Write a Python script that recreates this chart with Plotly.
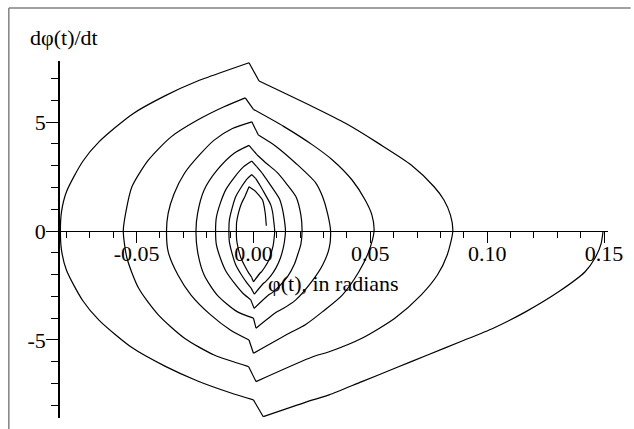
import plotly.graph_objects as go

# ---- data (phi in radians, dphi/dt) ----
# The trajectory alternates between right halves (phi > 0 side) and left halves,
# separated by the small velocity jumps near phi = 0.
r0_phi = [0.1496, 0.1487, 0.1461, 0.1419, 0.1307, 0.1166, 0.1026, 0.0885, 0.0745, 0.0605, 0.0464, 0.0324, 0.0254, 0.0042]
r0_v = [0.0, -0.6, -1.25, -1.87, -2.78, -3.70, -4.46, -5.08, -5.69, -6.30, -6.91, -7.52, -7.75, -8.52]

l1_phi = [0.0, -0.0099, -0.0239, -0.0379, -0.0520, -0.0660, -0.0730, -0.0800, -0.0821, -0.0826,
          -0.0821, -0.0800, -0.0730, -0.0660, -0.0520, -0.0379, -0.0239, -0.0099, -0.0019]
l1_v = [-7.75, -7.42, -6.88, -6.2, -5.35, -4.1, -3.2, -1.8, -0.9, 0.0,
        0.9, 1.8, 3.2, 4.1, 5.35, 6.2, 6.88, 7.42, 7.72]

r1_phi = [0.0024, 0.0254, 0.0394, 0.0535, 0.0675, 0.0773, 0.0815, 0.0843, 0.0853,
          0.0829, 0.0787, 0.0717, 0.0605, 0.0464, 0.0324, 0.0254, 0.0011]
r1_v = [6.88, 5.70, 4.94, 4.02, 3.03, 2.03, 1.42, 0.73, 0.0,
        -1.10, -2.02, -2.94, -4.00, -4.92, -5.54, -5.77, -6.91]

l2_phi = [-0.0021, -0.0168, -0.0295, -0.0407, -0.0491, -0.0541, -0.0557,
          -0.0547, -0.0520, -0.0449, -0.0351, -0.0239, -0.0126, -0.0035]
l2_v = [-6.22, -5.69, -4.92, -3.85, -2.63, -1.25, 0.0,
        0.81, 2.03, 3.26, 4.33, 5.09, 5.70, 6.11]

r2_phi = [0.0, 0.0129, 0.0254, 0.0338, 0.0422, 0.0478, 0.0507, 0.0516,
          0.0493, 0.0451, 0.0380, 0.0296, 0.0222, 0.0155, 0.0]
r2_v = [5.58, 4.80, 3.94, 3.26, 2.34, 1.42, 0.73, 0.0,
        -0.95, -1.87, -2.94, -3.70, -4.30, -4.68, -5.61]

l3_phi = [-0.0019, -0.0099, -0.0183, -0.0267, -0.0323, -0.0365, -0.0372,
          -0.0365, -0.0340, -0.0295, -0.0230, -0.0168, -0.0090, -0.0007]
l3_v = [-5.00, -4.54, -3.85, -2.94, -2.02, -0.95, 0.0,
        0.81, 1.70, 2.65, 3.50, 4.17, 4.70, 5.01]

r3_phi = [0.0021, 0.0098, 0.0182, 0.0267, 0.0296, 0.0317, 0.0330,
          0.0324, 0.0296, 0.0254, 0.0180, 0.0125, 0.0099, 0.0011]
r3_v = [4.40, 3.87, 3.10, 2.20, 1.57, 0.81, 0.0,
        -0.79, -1.56, -2.25, -3.17, -3.57, -3.72, -4.46]

l4_phi = [0.0, -0.0070, -0.0155, -0.0211, -0.0239, -0.0246,
          -0.0239, -0.0211, -0.0155, -0.0084, -0.0019]
l4_v = [-4.0, -3.70, -2.94, -2.02, -0.95, 0.0,
        0.81, 1.88, 2.80, 3.56, 3.93]

r4_phi = [0.0015, 0.0056, 0.0100, 0.0140, 0.0182, 0.0203, 0.0208,
          0.0203, 0.0191, 0.0175, 0.0148, 0.0112, 0.0079, 0.0062, 0.0003]
r4_v = [3.50, 3.10, 2.70, 2.19, 1.57, 0.73, 0.0,
        -0.6, -1.03, -1.53, -2.06, -2.52, -2.84, -2.96, -3.55]

l5_phi = [-0.0012, -0.0044, -0.0079, -0.0117, -0.0141, -0.0159, -0.0162,
          -0.0159, -0.0141, -0.0117, -0.0079, -0.0044, -0.0007]
l5_v = [-3.15, -2.87, -2.43, -1.86, -1.26, -0.6, 0.0,
        0.6, 1.3, 1.92, 2.5, 2.93, 3.21]

r5_phi = [0.0014, 0.0041, 0.0075, 0.0111, 0.0123, 0.0132, 0.0137,
          0.0133, 0.0126, 0.0115, 0.0097, 0.0074, 0.0052, 0.0041, 0.0004]
r5_v = [2.95, 2.6, 2.07, 1.48, 1.06, 0.53, 0.0,
        -0.46, -0.84, -1.25, -1.68, -2.06, -2.32, -2.42, -2.90]

l6_phi = [-0.0010, -0.0028, -0.0051, -0.0076, -0.0091, -0.0103, -0.0105,
          -0.0103, -0.0091, -0.0076, -0.0051, -0.0028, -0.0007]
l6_v = [-2.62, -2.38, -2.02, -1.55, -1.05, -0.5, 0.0,
        0.5, 1.06, 1.57, 2.03, 2.38, 2.59]

r6_phi = [0.0010, 0.0027, 0.0050, 0.0074, 0.0082, 0.0087, 0.0091,
          0.0088, 0.0084, 0.0076, 0.0065, 0.0049, 0.0035, 0.0027, 0.0]
r6_v = [2.40, 2.11, 1.68, 1.2, 0.86, 0.43, 0.0,
        -0.37, -0.68, -1.0, -1.35, -1.65, -1.86, -1.95, -2.33]

l7_phi = [-0.0008, -0.0020, -0.0036, -0.0053, -0.0064, -0.0072, -0.0073,
          -0.0072, -0.0064, -0.0053, -0.0036, -0.0019]
l7_v = [-2.12, -1.93, -1.63, -1.25, -0.85, -0.4, 0.0,
        0.4, 0.83, 1.22, 1.6, 2.03]

r7_phi = [0.0006, 0.0025, 0.0039, 0.0050, 0.0055]
r7_v = [1.85, 1.62, 1.42, 0.85, 0.24]

x_tick_vals = [-0.05, 0.0, 0.05, 0.10, 0.15]
x_tick_text = ["-0.05", "0.00", "0.05", "0.10", "0.15"]
y_tick_vals = [-5, 0, 5]
y_tick_text = ["-5", "0", "5"]

x_range = [-0.0832, 0.1517]
y_range = [-8.58, 7.80]

pieces = [(r0_phi, r0_v), (l1_phi, l1_v), (r1_phi, r1_v), (l2_phi, l2_v), (r2_phi, r2_v),
          (l3_phi, l3_v), (r3_phi, r3_v), (l4_phi, l4_v), (r4_phi, r4_v), (l5_phi, l5_v),
          (r5_phi, r5_v), (l6_phi, l6_v), (r6_phi, r6_v), (l7_phi, l7_v), (r7_phi, r7_v)]

FONT = "Liberation Serif, Times New Roman, serif"
LINE = dict(color="black", width=1.2)

fig = go.Figure()
# smooth arcs
for px_, pv_ in pieces:
    fig.add_trace(go.Scatter(x=px_, y=pv_, mode="lines",
                             line=dict(color="black", width=1.2, shape="spline", smoothing=0.7),
                             showlegend=False, hoverinfo="skip"))
# jumps between arcs (straight segments)
jx, jy = [], []
for (ax, av), (bx, bv) in zip(pieces[:-1], pieces[1:]):
    jx += [ax[-1], bx[0], None]
    jy += [av[-1], bv[0], None]
fig.add_trace(go.Scatter(x=jx, y=jy, mode="lines", line=LINE,
                         showlegend=False, hoverinfo="skip"))

W, H = 634, 429
ML, MR, MT, MB = 59, 17, 61, 11
pw, ph = W - ML - MR, H - MT - MB

def px_x(px):
    return (px - ML) / pw

def px_y(py):
    return (H - MB - py) / ph

fig.update_layout(
    width=W, height=H,
    margin=dict(l=ML, r=MR, t=MT, b=MB, pad=0),
    paper_bgcolor="white", plot_bgcolor="white",
    font=dict(family=FONT, size=22, color="black"),
    xaxis=dict(range=x_range, anchor="free",
               position=(0 - y_range[0]) / (y_range[1] - y_range[0]),
               showline=True, linecolor="black", linewidth=1,
               showgrid=False, zeroline=False,
               tickmode="array", tickvals=x_tick_vals, ticktext=x_tick_text,
               ticks="outside", ticklen=11, tickwidth=1, tickcolor="black",
               ticklabelstandoff=-8,
               tickfont=dict(family=FONT, size=22, color="black"),
               minor=dict(tickmode="linear", tick0=0, dtick=0.01, ticks="outside",
                          ticklen=6, tickwidth=1, tickcolor="black", showgrid=False)),
    yaxis=dict(range=y_range, anchor="free", position=0,
               showline=True, linecolor="black", linewidth=1.5,
               showgrid=False, zeroline=False,
               tickmode="array", tickvals=y_tick_vals, ticktext=y_tick_text,
               ticks="outside", ticklen=12, tickwidth=1, tickcolor="black",
               ticklabelstandoff=-4,
               tickfont=dict(family=FONT, size=22, color="black"),
               minor=dict(tickmode="linear", tick0=0, dtick=1, ticks="outside",
                          ticklen=7, tickwidth=1, tickcolor="black", showgrid=False)),
    annotations=[
        dict(text="dφ(t)/dt", xref="paper", yref="paper", x=px_x(27), y=px_y(37),
             xanchor="left", yanchor="middle", showarrow=False,
             font=dict(family=FONT, size=22, color="black")),
        dict(text="φ(t), in radians", xref="paper", yref="paper", x=px_x(269), y=px_y(283),
             xanchor="left", yanchor="middle", showarrow=False,
             font=dict(family=FONT, size=22, color="black")),
    ],
    shapes=[
        dict(type="line", xref="paper", yref="paper", x0=px_x(8), y0=px_y(8), x1=px_x(640), y1=px_y(8),
             line=dict(color="#808080", width=1.5)),
        dict(type="line", xref="paper", yref="paper", x0=px_x(8), y0=px_y(8), x1=px_x(8), y1=px_y(440),
             line=dict(color="#808080", width=1.5)),
    ],
)

fig.write_html("out.html")
